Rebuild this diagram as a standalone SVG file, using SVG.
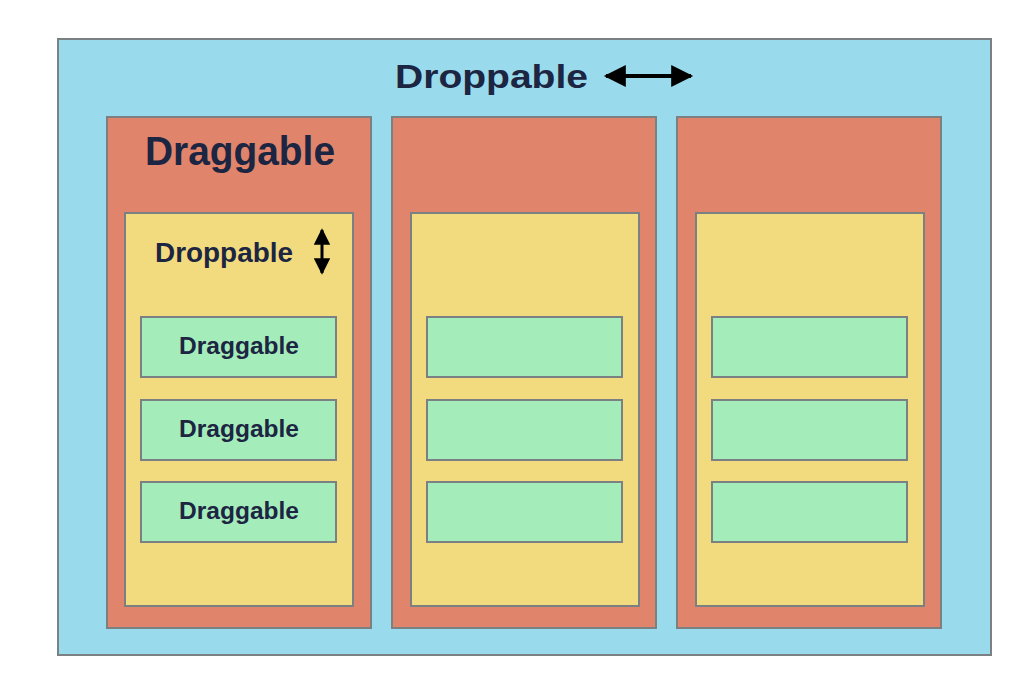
<svg xmlns="http://www.w3.org/2000/svg" width="1020" height="694" viewBox="0 0 1020 694">
<defs>
<style>
.box{stroke:#7b8182;stroke-width:2}
.outer{fill:#99dbec}
.col{fill:#e0846b}
.drop{fill:#f2db7e}
.item{fill:#a4edbb}
text{font-family:"Liberation Sans",Arial,sans-serif;font-weight:bold;fill:#1c2541}
.arr{stroke:#000;fill:none}
</style>
<marker id="hh" viewBox="0 0 10 10" refX="9" refY="5" markerWidth="6" markerHeight="5.5" markerUnits="strokeWidth" orient="auto-start-reverse">
<path d="M0,0 L10,5 L0,10 Z" fill="#000"/>
</marker>
<marker id="hv" viewBox="0 0 10 10" refX="9" refY="5" markerWidth="5.5" markerHeight="5.5" markerUnits="strokeWidth" orient="auto-start-reverse">
<path d="M0,0 L10,5 L0,10 Z" fill="#000"/>
</marker>
</defs>
<rect width="1020" height="694" fill="#ffffff"/>
<g id="board">
<rect class="box outer" x="58" y="39" width="933" height="616"/>
<text x="395" y="88" font-size="34" textLength="193" lengthAdjust="spacingAndGlyphs">Droppable</text>
</g>
<g id="column1">
<rect class="box col" x="107" y="117" width="264" height="511"/>
<text x="145" y="165" font-size="40" textLength="190" lengthAdjust="spacingAndGlyphs">Draggable</text>
</g>
<g id="column2"><rect class="box col" x="392" y="117" width="264" height="511"/></g>
<g id="column3"><rect class="box col" x="677" y="117" width="264" height="511"/></g>
<g id="list1">
<rect class="box drop" x="125" y="213" width="228" height="393"/>
<text x="155" y="262" font-size="27" textLength="138" lengthAdjust="spacingAndGlyphs">Droppable</text>
</g>
<g id="list2"><rect class="box drop" x="411" y="213" width="228" height="393"/></g>
<g id="list3"><rect class="box drop" x="696" y="213" width="228" height="393"/></g>
<g id="item1-1"><rect class="box item" x="141" y="317" width="195" height="60"/><text x="179" y="354" font-size="23" textLength="120" lengthAdjust="spacingAndGlyphs">Draggable</text></g>
<g id="item1-2"><rect class="box item" x="141" y="400" width="195" height="60"/><text x="179" y="437" font-size="23" textLength="120" lengthAdjust="spacingAndGlyphs">Draggable</text></g>
<g id="item1-3"><rect class="box item" x="141" y="482" width="195" height="60"/><text x="179" y="519" font-size="23" textLength="120" lengthAdjust="spacingAndGlyphs">Draggable</text></g>
<g id="item2-1"><rect class="box item" x="427" y="317" width="195" height="60"/></g>
<g id="item2-2"><rect class="box item" x="427" y="400" width="195" height="60"/></g>
<g id="item2-3"><rect class="box item" x="427" y="482" width="195" height="60"/></g>
<g id="item3-1"><rect class="box item" x="712" y="317" width="195" height="60"/></g>
<g id="item3-2"><rect class="box item" x="712" y="400" width="195" height="60"/></g>
<g id="item3-3"><rect class="box item" x="712" y="482" width="195" height="60"/></g>
<g id="connectors">
<line class="arr" x1="606" y1="76" x2="691" y2="76" stroke-width="4" marker-start="url(#hh)" marker-end="url(#hh)"/>
<line class="arr" x1="322" y1="230" x2="322" y2="273" stroke-width="3" marker-start="url(#hv)" marker-end="url(#hv)"/>
</g>
</svg>
